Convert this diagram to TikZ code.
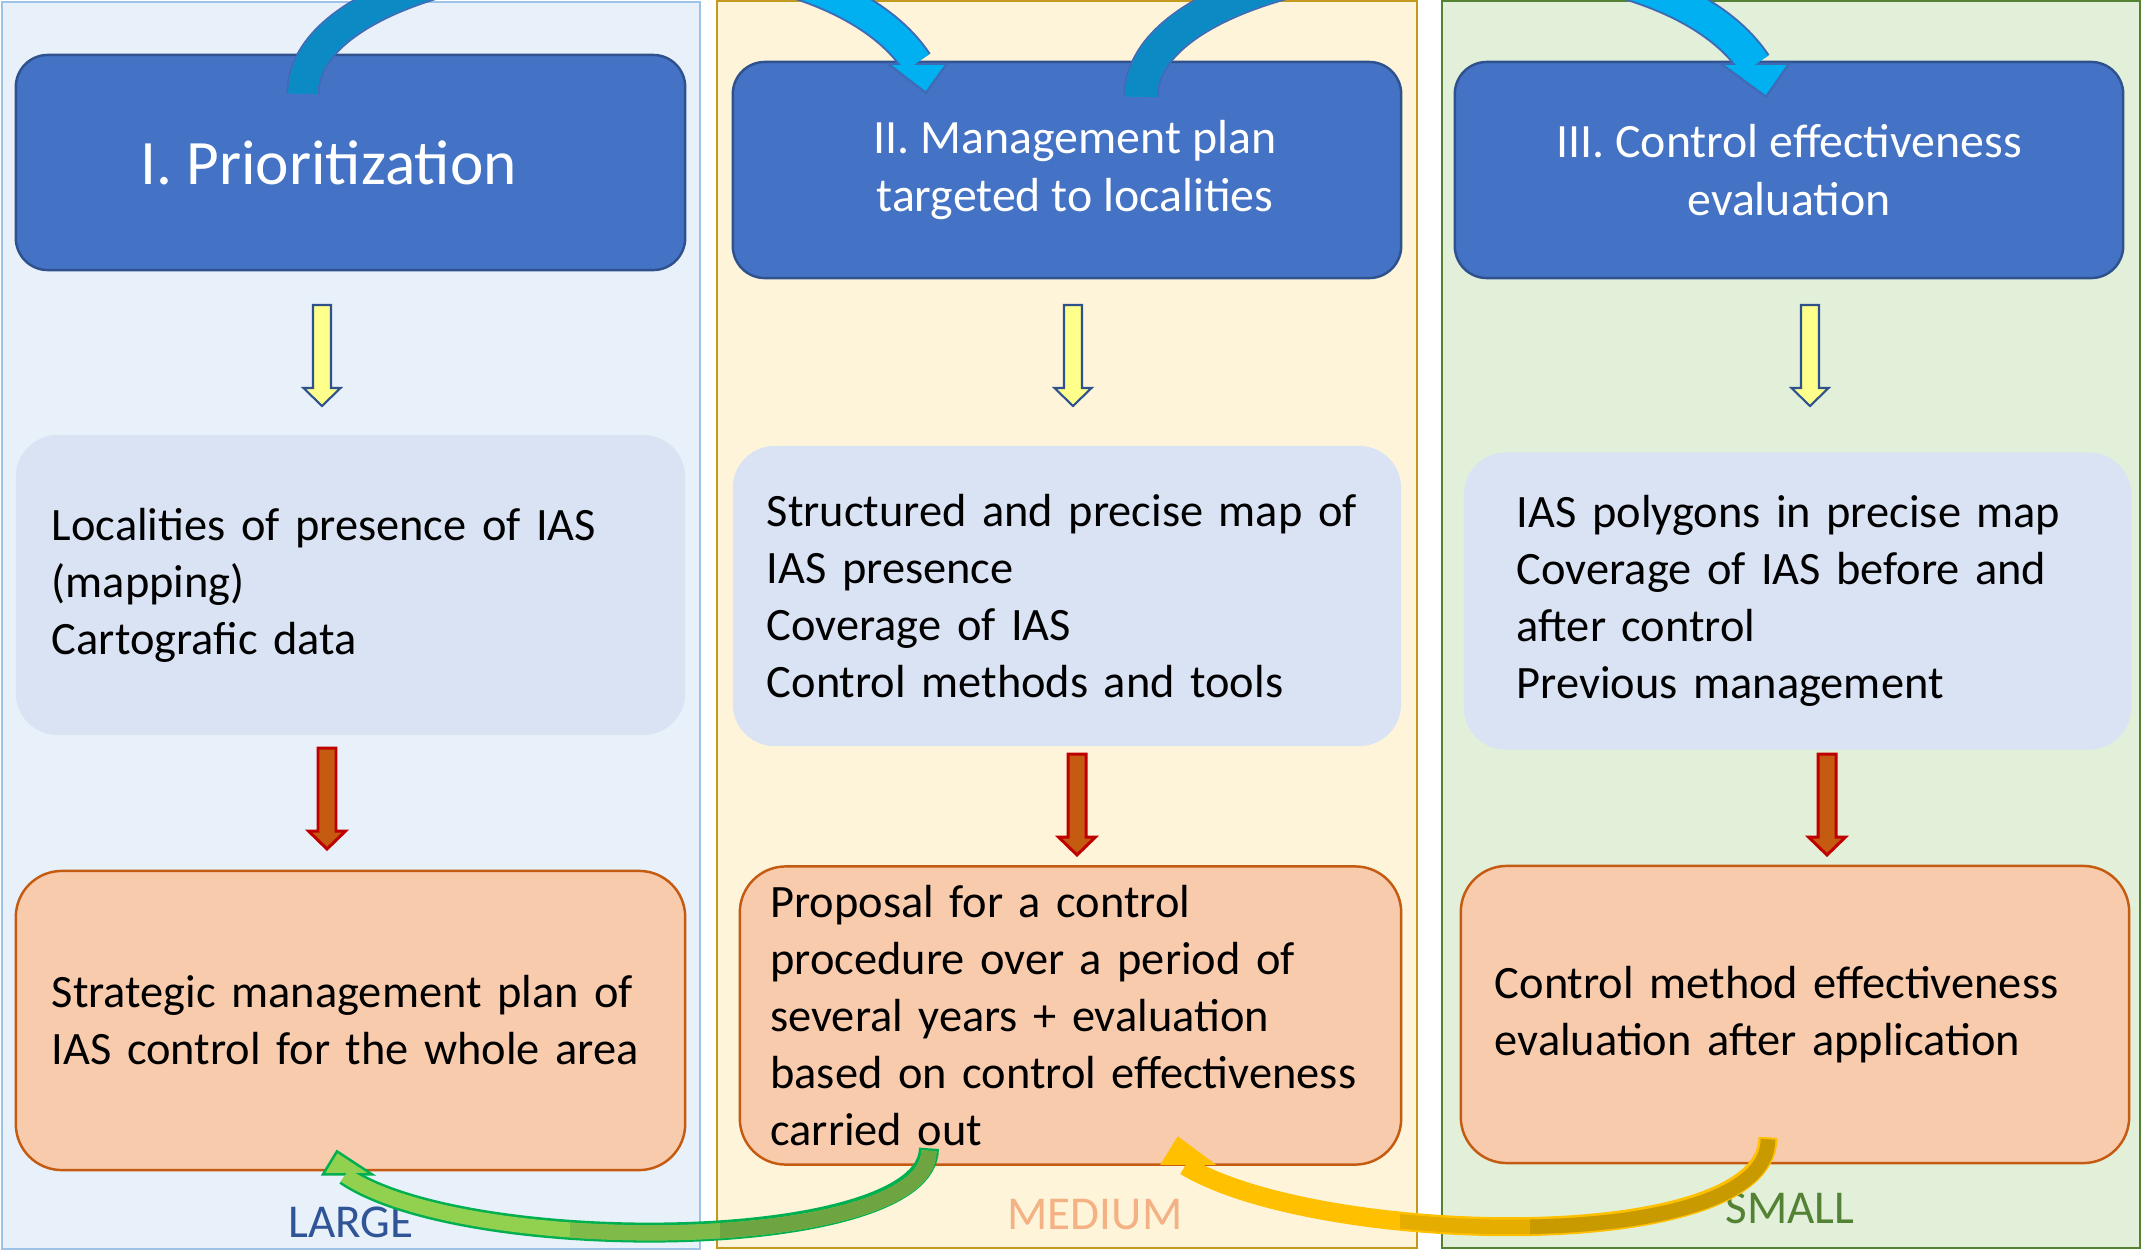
\documentclass[tikz,border=0pt]{standalone}
\usepackage{fontspec}
\setmainfont{Carlito}
\hyphenpenalty=10000

\definecolor{paneblue}{HTML}{E8F0F9}
\definecolor{panebluedraw}{HTML}{9DC3E6}
\definecolor{paneyellow}{HTML}{FEF4DA}
\definecolor{paneyellowdraw}{HTML}{C39A1E}
\definecolor{panegreen}{HTML}{E2EFD9}
\definecolor{panegreendraw}{HTML}{548235}
\definecolor{stagefill}{HTML}{4472C4}
\definecolor{stagedraw}{HTML}{2F528F}
\definecolor{datafill}{HTML}{DAE3F3}
\definecolor{resultfill}{HTML}{F8CBAD}
\definecolor{resultdraw}{HTML}{C55A11}
\definecolor{paleyellow}{HTML}{FFFF8C}
\definecolor{rust}{HTML}{C55A11}
\definecolor{darkred}{HTML}{C00000}
\definecolor{sweepdark}{HTML}{0B8AC4}
\definecolor{sweeplight}{HTML}{00B0F0}
\definecolor{sweepdraw}{HTML}{3F6AB5}
\definecolor{leafdark}{HTML}{6EA540}
\definecolor{leafmid}{HTML}{80BA48}
\definecolor{leaflight}{HTML}{92D050}
\definecolor{leafdraw}{HTML}{00B050}
\definecolor{golddark}{HTML}{C99A00}
\definecolor{goldmid}{HTML}{E4AD00}
\definecolor{goldlight}{HTML}{FFC000}
\definecolor{largecol}{HTML}{2F5597}
\definecolor{mediumcol}{HTML}{F4B183}
\definecolor{smallcol}{HTML}{548235}

\tikzset{
  bodytext/.style={font=\fontsize{13.2}{16.2}\selectfont},
  stagebox/.style={font=\fontsize{13.6}{16.6}\selectfont, draw=stagedraw, fill=stagefill,
    line width=0.7pt, rounded corners=0.32cm, minimum width=6.68cm, minimum height=2.16cm,
    text=white, align=center},
  databox/.style={bodytext, fill=datafill, rounded corners=0.42cm,
    minimum width=6.68cm, minimum height=3cm, inner sep=0pt, align=left},
  resultbox/.style={bodytext, draw=resultdraw, fill=resultfill, line width=0.7pt,
    rounded corners=0.46cm, minimum width=6.68cm, minimum height=2.98cm,
    inner sep=0pt, align=left},
  scalelabel/.style={font=\fontsize{13.4}{16}\selectfont},
  palearrow/.style={draw=stagedraw, fill=paleyellow, line width=0.6pt},
  rustarrow/.style={draw=darkred, fill=rust, line width=0.85pt},
  blockdown/.pic={
    \draw[pic actions] (-9,0) -- (-9,83) -- (-18.5,83) -- (0,101)
      -- (18.5,83) -- (9,83) -- (9,0) -- cycle;
  },
}

\begin{document}
\begin{tikzpicture}[x=0.01cm, y=-0.01cm]
  \useasboundingbox (0,0) rectangle (2141,1251);
  \clip (0,0) rectangle (2141,1251);
  \fill[white] (0,0) rectangle (2141,1251);

  % scale panels
  \draw[panebluedraw, fill=paneblue, line width=0.6pt] (2,2) rectangle (700,1249);
  \draw[paneyellowdraw, fill=paneyellow, line width=0.8pt] (717,1) rectangle (1417,1248);
  \draw[panegreendraw, fill=panegreen, line width=0.8pt] (1442,1) rectangle (2140,1248);

  % stages
  \node[stagebox, minimum width=6.69cm, minimum height=2.15cm] (hdA) at (350.5,162.5)
    {\fontsize{18}{21}\selectfont I. Prioritization\hspace*{0.44cm}};
  \node[stagebox] (hdB) at (1067,170) {\hspace*{0.16cm}II. Management plan\\\hspace*{0.16cm}targeted to localities};
  \node[stagebox] (hdC) at (1789,170) {III. Control effectiveness\\evaluation};

  % data needed
  \node[databox, minimum width=6.69cm, text width=5.97cm] (inA) at (350.5,585)
    {Localities of presence of IAS\\(mapping)\\Cartografic data};
  \node[databox, text width=6cm] (inB) at (1067,596)
    {Structured and precise map of\\IAS presence\\Coverage of IAS\\Control methods and tools};
  \node[databox, minimum width=6.67cm, minimum height=2.97cm, text width=5.61cm] (inC) at (1797.5,601)
    {IAS polygons in precise map\\Coverage of IAS before and\\after control\\Previous management};

  % results
  \node[resultbox, minimum width=6.69cm, minimum height=2.99cm, text width=5.97cm] (outA) at (350.5,1020.5)
    {Strategic management plan of\\IAS control for the whole area};
  \node[resultbox, minimum width=6.61cm, text width=6cm] (outB) at (1070.5,1015.5)
    {Proposal for a control\\procedure over a period of\\several years + evaluation\\based on control effectiveness\\carried out};
  \node[resultbox, minimum height=2.97cm, text width=6cm] (outC) at (1795,1014.5)
    {Control method effectiveness\\evaluation after application};

  \node[scalelabel, text=largecol] (lblLarge) at (351,1222) {LARGE};
  \node[scalelabel, text=mediumcol] (lblMedium) at (1095,1215) {MEDIUM};
  \node[scalelabel, text=smallcol] (lblSmall) at (1790,1208) {SMALL};

  % block arrows
  \pic[palearrow] at (322,305) {blockdown};
  \pic[palearrow] at (1073,305) {blockdown};
  \pic[palearrow] at (1810,305) {blockdown};
  \pic[rustarrow] at (327,748) {blockdown};
  \pic[rustarrow] at (1077,754) {blockdown};
  \pic[rustarrow] at (1827,754) {blockdown};

  % sweep I -> II
  \draw[sweepdraw, line width=0.33cm] ([xshift=-0.475cm,yshift=-0.4cm]hdA.north)
    .. controls +(0,-150) and +(-110,-166) .. ([xshift=-1.5cm,yshift=-0.02cm]hdB.north);
  \filldraw[fill=sweeplight, draw=sweepdraw, line width=0.6pt]
    ([xshift=-1.5cm,yshift=-0.02cm]hdB.north) ++(-29,1) -- ++(38,29) -- ++(21,-29) -- cycle;
  \draw[sweeplight, line width=0.29cm] ([xshift=-0.475cm,yshift=-0.4cm]hdA.north)
    .. controls +(0,-150) and +(-110,-166) .. ([xshift=-1.5cm,yshift=-0.02cm]hdB.north);
  \begin{scope}
    \clip (0,-300) rectangle (560,300);
    \draw[sweepdark, line width=0.29cm] ([xshift=-0.475cm,yshift=-0.4cm]hdA.north)
      .. controls +(0,-150) and +(-110,-166) .. ([xshift=-1.5cm,yshift=-0.02cm]hdB.north);
  \end{scope}

  % sweep II -> III
  \draw[sweepdraw, line width=0.35cm] ([xshift=0.74cm,yshift=-0.36cm]hdB.north)
    .. controls +(0,-150) and +(-110,-166) .. ([xshift=-0.34cm,yshift=-0.04cm]hdC.north);
  \filldraw[fill=sweeplight, draw=sweepdraw, line width=0.6pt]
    ([xshift=-0.34cm,yshift=-0.04cm]hdC.north) ++(-34,-1) -- ++(45,33) -- ++(23,-33) -- cycle;
  \draw[sweeplight, line width=0.31cm] ([xshift=0.74cm,yshift=-0.36cm]hdB.north)
    .. controls +(0,-150) and +(-110,-166) .. ([xshift=-0.34cm,yshift=-0.04cm]hdC.north);
  \begin{scope}
    \clip (700,-300) rectangle (1398,300);
    \draw[sweepdark, line width=0.31cm] ([xshift=0.74cm,yshift=-0.36cm]hdB.north)
      .. controls +(0,-150) and +(-110,-166) .. ([xshift=-0.34cm,yshift=-0.04cm]hdC.north);
  \end{scope}

  % back from medium to large
  \draw[leafdraw, line width=0.2cm, shorten <=-0.025cm] ([xshift=-1.415cm,yshift=0.15cm]outB.south)
    .. controls +(0,103) and +(120,82) .. ([xshift=-0.055cm,yshift=-0.04cm]outA.south);
  \filldraw[fill=leaflight, draw=leafdraw, line width=0.7pt]
    ([xshift=-0.055cm,yshift=-0.04cm]outA.south) ++(-22,-1) -- ++(14,-23) -- ++(35,23) -- cycle;
  \draw[leaflight, line width=0.15cm] ([xshift=-1.415cm,yshift=0.15cm]outB.south)
    .. controls +(0,103) and +(120,82) .. ([xshift=-0.055cm,yshift=-0.04cm]outA.south);
  \begin{scope}
    \clip (570,1100) rectangle (1000,1251);
    \draw[leafmid, line width=0.15cm] ([xshift=-1.415cm,yshift=0.15cm]outB.south)
      .. controls +(0,103) and +(120,82) .. ([xshift=-0.055cm,yshift=-0.04cm]outA.south);
  \end{scope}
  \begin{scope}
    \clip (720,1100) rectangle (1000,1251);
    \draw[leafdark, line width=0.15cm] ([xshift=-1.415cm,yshift=0.15cm]outB.south)
      .. controls +(0,103) and +(120,82) .. ([xshift=-0.055cm,yshift=-0.04cm]outA.south);
  \end{scope}

  % back from small to medium
  \draw[goldlight, line width=0.19cm, shorten <=-0.02cm] ([xshift=-0.27cm,yshift=0.25cm]outC.south)
    .. controls +(0,118) and +(133,80) .. ([xshift=1.145cm]outB.south);
  \filldraw[fill=goldlight, draw=goldlight, line width=0.6pt]
    ([xshift=1.145cm]outB.south) ++(-23,-2) -- ++(16,-26) -- ++(35,26) -- cycle;
  \begin{scope}
    \clip (1400,1100) rectangle (1900,1251);
    \draw[goldmid, line width=0.145cm] ([xshift=-0.27cm,yshift=0.25cm]outC.south)
      .. controls +(0,118) and +(133,80) .. ([xshift=1.145cm]outB.south);
  \end{scope}
  \begin{scope}
    \clip (1530,1100) rectangle (1900,1251);
    \draw[golddark, line width=0.145cm] ([xshift=-0.27cm,yshift=0.25cm]outC.south)
      .. controls +(0,118) and +(133,80) .. ([xshift=1.145cm]outB.south);
  \end{scope}
\end{tikzpicture}
\end{document}
